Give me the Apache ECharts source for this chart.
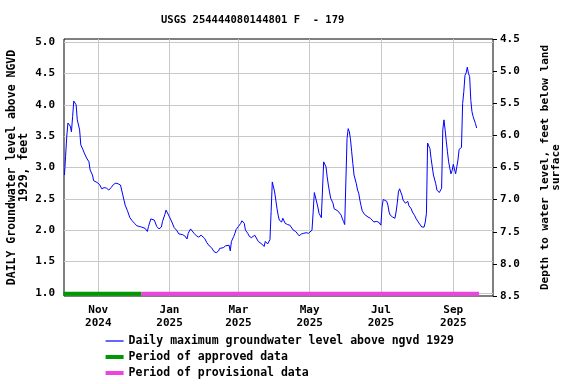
<!DOCTYPE html>
<html><head><meta charset="utf-8">
<script src="https://cdn.jsdelivr.net/npm/echarts@6/dist/echarts.min.js"></script>
<style>html,body{margin:0;padding:0;background:#fff}#c{width:576px;height:384px}</style>
</head><body><div id="c"></div>
<script>
const titleText = 'USGS 254444080144801 F  - 179';
const seriesName = 'Daily maximum groundwater level above ngvd 1929';
const approvedName = 'Period of approved data';
const provisionalName = 'Period of provisional data';
const leftAxisName = 'DAILY Groundwater level above NGVD\n1929, feet';
const rightAxisName = 'Depth to water level, feet below land\nsurface';

const dates = [
'2024-10-03','2024-10-04','2024-10-05','2024-10-06','2024-10-07','2024-10-08','2024-10-09','2024-10-10','2024-10-11','2024-10-12',
'2024-10-13','2024-10-14','2024-10-16','2024-10-17','2024-10-19','2024-10-20','2024-10-22','2024-10-24','2024-10-25','2024-10-27',
'2024-10-28','2024-10-31','2024-11-02','2024-11-04','2024-11-06','2024-11-08','2024-11-10','2024-11-12','2024-11-14','2024-11-16',
'2024-11-18','2024-11-20','2024-11-21','2024-11-23','2024-11-24','2024-11-26','2024-11-28','2024-11-30','2024-12-02','2024-12-04',
'2024-12-06','2024-12-08','2024-12-11','2024-12-13','2024-12-14','2024-12-16','2024-12-17','2024-12-19','2024-12-21','2024-12-23',
'2024-12-25','2024-12-26','2024-12-28','2024-12-29','2024-12-30','2025-01-01','2025-01-03','2025-01-05','2025-01-07','2025-01-09',
'2025-01-12','2025-01-14','2025-01-16','2025-01-17','2025-01-19','2025-01-20','2025-01-22','2025-01-24','2025-01-26','2025-01-28',
'2025-01-29','2025-01-31','2025-02-02','2025-02-04','2025-02-06','2025-02-08','2025-02-10','2025-02-12','2025-02-13','2025-02-14',
'2025-02-16','2025-02-18','2025-02-19','2025-02-21','2025-02-22','2025-02-23','2025-02-25','2025-02-26','2025-02-27','2025-03-01',
'2025-03-03','2025-03-04','2025-03-05','2025-03-06','2025-03-07','2025-03-09','2025-03-10','2025-03-12','2025-03-13','2025-03-15',
'2025-03-16','2025-03-18','2025-03-19','2025-03-21','2025-03-23','2025-03-24','2025-03-26','2025-03-27','2025-03-28','2025-03-29',
'2025-03-30','2025-03-31','2025-04-01','2025-04-02','2025-04-03','2025-04-04','2025-04-05','2025-04-07','2025-04-08','2025-04-09',
'2025-04-10','2025-04-12','2025-04-14','2025-04-15','2025-04-17','2025-04-19','2025-04-20','2025-04-22','2025-04-24','2025-04-26',
'2025-04-28','2025-04-30','2025-05-01','2025-05-03','2025-05-04','2025-05-05','2025-05-06','2025-05-07','2025-05-08','2025-05-09',
'2025-05-11','2025-05-12','2025-05-13','2025-05-14','2025-05-15','2025-05-16','2025-05-17','2025-05-18','2025-05-19','2025-05-21',
'2025-05-22','2025-05-23','2025-05-25','2025-05-26','2025-05-28','2025-05-29','2025-05-30','2025-05-31','2025-06-01','2025-06-02',
'2025-06-03','2025-06-04','2025-06-05','2025-06-06','2025-06-07','2025-06-08','2025-06-10','2025-06-11','2025-06-12','2025-06-13',
'2025-06-14','2025-06-15','2025-06-17','2025-06-18','2025-06-20','2025-06-22','2025-06-23','2025-06-25','2025-06-26','2025-06-27',
'2025-06-29','2025-06-30','2025-07-01','2025-07-02','2025-07-03','2025-07-04','2025-07-06','2025-07-07','2025-07-08','2025-07-09',
'2025-07-10','2025-07-11','2025-07-13','2025-07-14','2025-07-15','2025-07-16','2025-07-17','2025-07-18','2025-07-19','2025-07-20',
'2025-07-22','2025-07-23','2025-07-24','2025-07-25','2025-07-27','2025-07-28','2025-07-30','2025-07-31','2025-08-02','2025-08-03',
'2025-08-05','2025-08-06','2025-08-07','2025-08-08','2025-08-09','2025-08-10','2025-08-11','2025-08-12','2025-08-13','2025-08-14',
'2025-08-15','2025-08-17','2025-08-18','2025-08-20','2025-08-21','2025-08-22','2025-08-23','2025-08-24','2025-08-25','2025-08-26',
'2025-08-27','2025-08-28','2025-08-29','2025-08-30','2025-08-31','2025-09-01','2025-09-02','2025-09-03','2025-09-04','2025-09-05',
'2025-09-06','2025-09-07','2025-09-08','2025-09-09','2025-09-10','2025-09-11','2025-09-12','2025-09-13','2025-09-14','2025-09-15',
'2025-09-16','2025-09-17','2025-09-18','2025-09-19','2025-09-20','2025-09-21'
];
const levels = [
2.88,3.18,3.50,3.71,3.71,3.66,3.57,3.81,4.06,4.08,
4.00,3.76,3.60,3.36,3.28,3.23,3.15,3.09,2.96,2.88,
2.79,2.76,2.73,2.66,2.68,2.67,2.64,2.68,2.73,2.75,
2.74,2.72,2.64,2.48,2.40,2.31,2.20,2.15,2.11,2.07,
2.06,2.05,2.03,1.98,2.06,2.18,2.19,2.16,2.06,2.02,
2.05,2.14,2.25,2.32,2.31,2.21,2.13,2.04,2.00,1.94,
1.93,1.91,1.86,1.95,2.02,2.01,1.95,1.91,1.89,1.92,
1.91,1.87,1.80,1.75,1.72,1.66,1.64,1.67,1.71,1.74,
1.72,1.75,1.78,1.76,1.67,1.82,1.90,1.95,2.01,2.06,
2.11,2.15,2.18,2.11,2.00,1.95,1.91,1.88,1.90,1.92,
1.91,1.82,1.80,1.78,1.74,1.82,1.78,1.81,1.85,2.30,
2.77,2.74,2.61,2.48,2.35,2.24,2.16,2.13,2.19,2.17,
2.11,2.09,2.08,2.05,2.00,1.98,1.96,1.91,1.94,1.95,
1.96,1.95,1.95,2.00,2.29,2.60,2.58,2.45,2.37,2.27,
2.20,2.18,3.09,3.09,3.01,2.85,2.72,2.61,2.51,2.43,
2.34,2.33,2.31,2.30,2.24,2.18,2.14,2.09,2.07,3.46,
3.62,3.57,3.44,3.25,3.06,2.88,2.74,2.64,2.59,2.48,
2.39,2.31,2.25,2.22,2.21,2.19,2.16,2.13,2.13,2.14,
2.13,2.10,2.08,2.37,2.49,2.48,2.46,2.40,2.29,2.24,
2.24,2.21,2.19,2.29,2.43,2.61,2.66,2.63,2.56,2.48,
2.43,2.43,2.46,2.39,2.34,2.29,2.23,2.19,2.13,2.10,
2.05,2.04,2.05,2.13,2.27,3.39,3.42,3.30,3.14,3.01,
2.88,2.74,2.64,2.60,2.59,2.67,3.60,3.76,3.60,3.42,
3.25,3.09,2.99,2.90,2.95,3.05,3.02,2.90,3.01,3.12,
3.29,3.31,3.32,4.02,4.21,4.47,4.51,4.60,4.50,4.45,
4.07,3.89,3.81,3.78,3.70,3.63
];
const approvedPeriod = ['2024-10-02', '2024-12-08'];
const provisionalPeriod = ['2024-12-08', '2025-09-23'];
const xTickDates = ['2024-11-01','2025-01-01','2025-03-01','2025-05-01','2025-07-01','2025-09-01'];
const xTickLabels = ['Nov\n2024','Jan\n2025','Mar\n2025','May\n2025','Jul\n2025','Sep\n2025'];
const leftTicks = [1.0,1.5,2.0,2.5,3.0,3.5,4.0,4.5,5.0];
const xRange = ['2024-10-02T15:00', '2025-10-05T00:00'];

function t(s) {
  const parts = s.split('T');
  const ymd = parts[0].split('-').map(Number);
  let h = 0, mi = 0;
  if (parts[1]) { const hm = parts[1].split(':').map(Number); h = hm[0]; mi = hm[1]; }
  return Date.UTC(ymd[0], ymd[1] - 1, ymd[2], h, mi);
}
const xTickTimes = xTickDates.map(t);
const barY = 0.985;
const font = 'DejaVu Sans Mono';

const chart = echarts.init(document.getElementById('c'), null, {renderer: 'canvas'});
chart.setOption({
  animation: false,
  backgroundColor: '#ffffff',
  title: {
    text: titleText, left: 161, top: 15, padding: 0,
    textStyle: {fontFamily: font, fontWeight: 'bold', fontSize: 10.5, color: '#000'}
  },
  grid: {left: 64, top: 39, width: 429, height: 257, show: true, borderColor: '#000', borderWidth: 1,
    containLabel: false, outerBoundsMode: 'none'},
  legend: {
    orient: 'vertical', left: 105, top: 334, padding: 0, itemWidth: 18, itemHeight: 4, itemGap: 2,
    textStyle: {fontFamily: font, fontWeight: 'bold', fontSize: 11.5, color: '#000', lineHeight: 14},
    data: [
      {name: seriesName, itemStyle: {color: 'rgba(0,0,0,0)', borderWidth: 0, opacity: 0}, lineStyle: {width: 1.2, color: '#0000ff'}},
      {name: approvedName, icon: 'rect', itemStyle: {color: '#009900'}},
      {name: provisionalName, icon: 'rect', itemStyle: {color: '#ee44dd'}}
    ]
  },
  xAxis: {
    type: 'value', min: t(xRange[0]), max: t(xRange[1]),
    axisLine: {show: false}, axisTick: {show: false, customValues: xTickTimes},
    axisLabel: {
      customValues: xTickTimes, margin: 8, lineHeight: 13,
      fontFamily: font, fontWeight: 'bold', fontSize: 11, color: '#000',
      formatter: function (v) {
        const i = xTickTimes.findIndex(function (x) { return Math.abs(x - v) < 3600e3; });
        return i >= 0 ? xTickLabels[i] : '';
      }
    },
    splitLine: {show: true, lineStyle: {color: '#c8c8c8', width: 1}}
  },
  yAxis: [
    {
      type: 'value', min: 0.95, max: 5.05, position: 'left',
      name: leftAxisName, nameLocation: 'middle', nameGap: 34, nameMoveOverlap: false,
      nameTextStyle: {fontFamily: font, fontWeight: 'bold', fontSize: 11.5, color: '#000', lineHeight: 12},
      axisLine: {show: false}, axisTick: {show: false, customValues: leftTicks},
      axisLabel: {customValues: leftTicks, margin: 9, fontFamily: font, fontWeight: 'bold', fontSize: 11, color: '#000',
        formatter: function (v) { return v.toFixed(1); }},
      splitLine: {show: true, lineStyle: {color: '#c8c8c8', width: 1}}
    },
    {
      type: 'value', min: 4.5, max: 8.5, interval: 0.5, inverse: true, position: 'right',
      name: rightAxisName, nameLocation: 'middle', nameGap: 47, nameRotate: 90, nameMoveOverlap: false,
      nameTextStyle: {fontFamily: font, fontWeight: 'bold', fontSize: 11, color: '#000', lineHeight: 11},
      axisLine: {show: false}, axisTick: {show: true, length: 4, lineStyle: {color: '#000'}},
      axisLabel: {margin: 7, fontFamily: font, fontWeight: 'bold', fontSize: 11, color: '#000',
        formatter: function (v) { return v.toFixed(1); }},
      splitLine: {show: false}
    }
  ],
  series: [
    {
      name: seriesName, type: 'line', yAxisIndex: 0, symbol: 'none',
      lineStyle: {color: '#0000ff', width: 1}, itemStyle: {color: '#0000ff'},
      data: dates.map(function (d, i) { return [t(d), levels[i]]; })
    },
    {
      name: approvedName, type: 'line', yAxisIndex: 0, symbol: 'none', clip: false,
      lineStyle: {color: '#009900', width: 4}, itemStyle: {color: '#009900'},
      data: approvedPeriod.map(function (d) { return [t(d), barY]; })
    },
    {
      name: provisionalName, type: 'line', yAxisIndex: 0, symbol: 'none', clip: false,
      lineStyle: {color: '#ee44dd', width: 4}, itemStyle: {color: '#ee44dd'},
      data: provisionalPeriod.map(function (d) { return [t(d), barY]; })
    }
  ]
});
</script>
</body></html>
